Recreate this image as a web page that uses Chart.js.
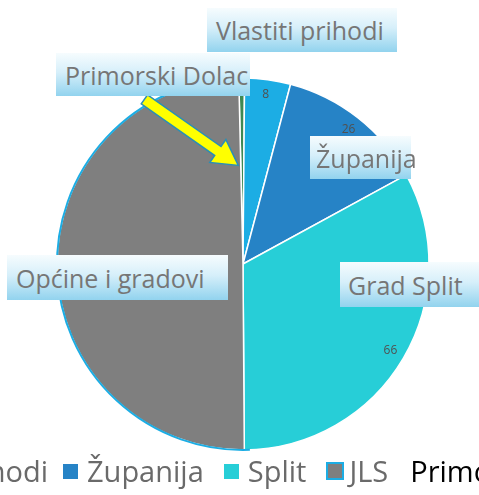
<!DOCTYPE html>
<html lang="hr">
<head>
    <meta charset="UTF-8">
    <title>Izvori financiranja</title>
    <script src="https://cdn.jsdelivr.net/npm/chart.js"></script>
    <style>
        body {
            margin: 0;
            background: #fff;
            font-family: 'Open Sans', sans-serif;
        }

        .wrap {
            position: relative;
            width: 479px;
            height: 495px;
            overflow: hidden;
        }

        canvas {
            position: absolute;
            left: 0;
            top: 0;
        }

        /* callout boxes on top of the pie */
        .callout {
            position: absolute;
            box-sizing: border-box;
            font-size: 25px;
            color: #767676;
            white-space: nowrap;
            background: linear-gradient(to bottom, #f6fcfe 0%, #d6effa 45%, #92d3ee 100%);
            display: flex;
            align-items: center;
        }

        .legend {
            position: absolute;
            top: 457px;
            left: -180px;
            display: flex;
            align-items: center;
            white-space: nowrap;
            font-size: 29px;
            line-height: 28px;
            color: #6a6a6a;
        }

        .legend .box {
            width: 15px;
            height: 15px;
            margin-right: 9px;
            box-sizing: border-box;
        }

        .legend .item {
            display: flex;
            align-items: center;
            margin-right: 20px;
        }

        .legend .item:first-child {
            margin-right: 15px;
        }

        .legend .plain {
            color: #000;
        }
    </style>
</head>
<body>

<div class="wrap" id="wrap">
    <canvas id="pie" width="479" height="495"></canvas>
</div>

<script>
    // data
    const labels = ['Primorski Dolac', 'Vlastiti prihodi', 'Županija', 'Split', 'JLS'];
    const calloutLabels = ['Primorski Dolac', 'Vlastiti prihodi', 'Županija', 'Grad Split', 'Općine i gradovi'];
    const values = [1, 8, 26, 66, 100];
    const colors = ['#3e8853', '#1cade4', '#2683c6', '#27ced7', '#7f7f7f'];

    // callout boxes (left, top, width, height, text indent)
    const calloutBoxes = [
        [56, 53, 194, 43, 9],
        [207, 8, 190, 44, 9],
        [310, 136, 101, 43, 6],
        [340, 262, 150, 45, 8],
        [7, 255, 221, 45, 9]
    ];

    // value labels near the rim
    const valueLabels = {
        id: 'valueLabels',
        afterDatasetsDraw(chart) {
            const ctx = chart.ctx;
            const meta = chart.getDatasetMeta(0);
            ctx.save();
            ctx.font = '12px "Open Sans", sans-serif';
            ctx.fillStyle = '#505050';
            ctx.textAlign = 'center';
            ctx.textBaseline = 'middle';
            meta.data.forEach((arc, i) => {
                const p = arc.getProps(['x', 'y', 'startAngle', 'endAngle', 'outerRadius'], true);
                const mid = (p.startAngle + p.endAngle) / 2;
                const r = p.outerRadius * 0.92;
                ctx.fillText(values[i], p.x + Math.cos(mid) * r, p.y + Math.sin(mid) * r);
            });
            ctx.restore();
        }
    };

    // blue rim along the big grey slice only
    const greyRim = {
        id: 'greyRim',
        afterDatasetsDraw(chart) {
            const ctx = chart.ctx;
            const arc = chart.getDatasetMeta(0).data[4];
            const p = arc.getProps(['x', 'y', 'startAngle', 'endAngle', 'outerRadius'], true);
            ctx.save();
            ctx.beginPath();
            ctx.arc(p.x, p.y, p.outerRadius, p.startAngle - 0.03, p.endAngle);
            ctx.lineWidth = 2;
            ctx.strokeStyle = '#1cade4';
            ctx.stroke();
            ctx.restore();
        }
    };

    // yellow arrow pointing at the thin slice
    const arrow = {
        id: 'arrow',
        afterDraw(chart) {
            const ctx = chart.ctx;
            const arc = chart.getDatasetMeta(0).data[0];
            const p = arc.getProps(['x', 'y', 'startAngle', 'endAngle', 'outerRadius'], true);
            const mid = (p.startAngle + p.endAngle) / 2;
            const tx = p.x + Math.cos(mid) * p.outerRadius * 0.53 - 4;
            const ty = p.y + Math.sin(mid) * p.outerRadius * 0.53;
            const sx = p.x - p.outerRadius * 0.53;
            const sy = p.y - p.outerRadius * 0.885;

            const ang = Math.atan2(ty - sy, tx - sx);
            const len = Math.hypot(tx - sx, ty - sy);
            const shaft = 5.5, head = 14, headLen = 25;

            ctx.save();
            ctx.translate(sx, sy);
            ctx.rotate(ang);
            ctx.beginPath();
            ctx.moveTo(0, -shaft);
            ctx.lineTo(len - headLen, -shaft);
            ctx.lineTo(len - headLen, -head);
            ctx.lineTo(len, 0);
            ctx.lineTo(len - headLen, head);
            ctx.lineTo(len - headLen, shaft);
            ctx.lineTo(0, shaft);
            ctx.closePath();
            ctx.fillStyle = '#ffff00';
            ctx.fill();
            ctx.lineWidth = 1.5;
            ctx.strokeStyle = '#2a8fb5';
            ctx.stroke();
            ctx.restore();
        }
    };

    new Chart(document.getElementById('pie').getContext('2d'), {
        type: 'pie',
        data: {
            labels: labels,
            datasets: [{
                data: values,
                backgroundColor: colors,
                borderColor: '#fff',
                borderWidth: 1.5,
                hoverOffset: 0
            }]
        },
        options: {
            responsive: false,
            animation: false,
            rotation: -1.3,
            radius: 186,
            layout: {
                padding: { left: 7, right: 0, top: 33, bottom: 0 }
            },
            plugins: {
                legend: { display: false },
                tooltip: { enabled: false }
            }
        },
        plugins: [greyRim, valueLabels, arrow]
    });

    // callouts
    const wrap = document.getElementById('wrap');
    calloutLabels.forEach((text, i) => {
        const b = calloutBoxes[i];
        const div = document.createElement('div');
        div.className = 'callout';
        div.style.left = b[0] + 'px';
        div.style.top = b[1] + 'px';
        div.style.width = b[2] + 'px';
        div.style.height = b[3] + 'px';
        div.style.paddingLeft = b[4] + 'px';
        div.textContent = text;
        wrap.appendChild(div);
    });

    // legend row (runs off both edges like the original)
    const legend = document.createElement('div');
    legend.className = 'legend';
    let firstText = null;
    for (let i = 1; i < labels.length; i++) {
        const item = document.createElement('div');
        item.className = 'item';
        const box = document.createElement('div');
        box.className = 'box';
        box.style.background = colors[i];
        if (i === labels.length - 1) {
            box.style.border = '2px solid #1cade4';
            box.style.width = '18px';
            box.style.height = '18px';
            box.style.marginRight = '5px';
            item.style.marginRight = '22px';
        }
        const txt = document.createElement('span');
        txt.textContent = labels[i];
        if (!firstText) firstText = txt;
        item.appendChild(box);
        item.appendChild(txt);
        legend.appendChild(item);
    }
    const last = document.createElement('span');
    last.className = 'plain';
    last.textContent = labels[0];
    legend.appendChild(last);
    wrap.appendChild(legend);

    // the first legend entry is cut by the left edge: its text ends at x = 48
    const shift = 48 - firstText.getBoundingClientRect().right;
    legend.style.left = (legend.offsetLeft + shift) + 'px';
</script>

</body>
</html>
